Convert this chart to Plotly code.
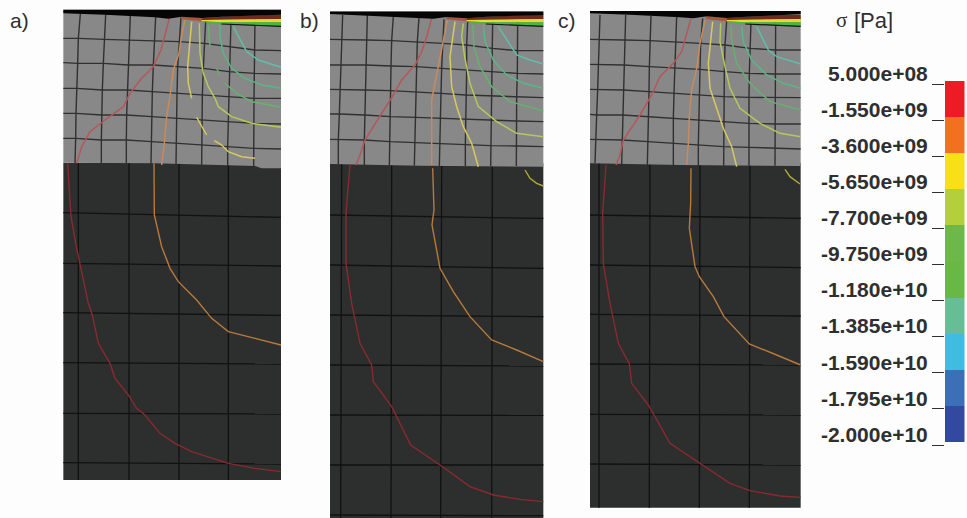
import plotly.graph_objects as go

# Colour legend
TICK_VALUES = [5.0e8, -1.55e9, -3.6e9, -5.65e9, -7.7e9, -9.75e9, -1.18e10, -1.385e10, -1.59e10, -1.795e10, -2.0e10]
TICK_LABELS = ["5.000e+08", "-1.550e+09", "-3.600e+09", "-5.650e+09", "-7.700e+09", "-9.750e+09",
               "-1.180e+10", "-1.385e+10", "-1.590e+10", "-1.795e+10", "-2.000e+10"]
LEGEND_COLORS = ["#ED1C24", "#F37021", "#F7E017", "#B3CF3A", "#6DB84A", "#68B846", "#66BD96", "#3FBCE0", "#3B6FB6", "#32499F"]

PANEL_NAMES = ["a)", "b)", "c)"]

# Upper layer mesh (rows of nodes, traced units)
A_MESH_X = [[25,76,152,226,302,378,452,528,600,678],[25,70,148,223,298,372,448,526,600,678],[25,68,145,220,295,368,445,522,598,678],
            [25,65,142,218,292,366,442,520,597,678],[25,63,140,215,290,365,441,519,597,678],[25,62,139,214,290,364,440,518,596,678],
            [25,60,139,214,288,363,440,518,596,678]]
A_MESH_Y = [[38,42,44,46,50,52,62,60,55,52],[115,115,118,120,122,125,130,140,150,152],[188,190,190,195,195,200,205,215,220,222],
            [265,265,270,270,275,280,285,290,295,295],[340,340,345,345,350,355,360,365,370,372],[415,415,420,420,425,430,435,440,445,447],
            [490,490,490,490,492,495,495,498,500,500]]
B_MESH_X = [[30,68,142,220,297,372,443,518,593,670],[30,65,140,215,292,368,440,517,593,670],[30,62,137,213,290,365,440,515,592,670],
            [30,60,135,212,288,363,438,514,590,670],[30,58,134,212,287,362,437,514,590,670],[30,55,133,210,285,360,436,513,590,670],
            [30,55,133,208,283,358,436,512,589,670]]
B_MESH_Y = [[42,45,45,48,52,58,62,62,62,60],[118,118,120,122,125,130,135,145,152,152],[195,195,195,198,200,205,210,215,220,222],
            [268,268,270,272,275,280,285,288,290,293],[342,342,345,350,352,355,358,361,363,365],[418,418,420,425,428,430,435,437,438,440],
            [492,495,495,497,497,498,498,498,498,500]]
C_MESH_X = [[30,60,137,213,290,368,440,513,587,662],[30,57,135,210,287,362,435,510,587,662],[30,55,132,208,283,360,433,508,585,662],
            [30,53,130,207,282,358,432,507,585,662],[30,50,128,205,280,356,431,507,585,662],[30,48,127,204,280,355,431,507,585,662],
            [30,45,125,202,280,355,431,507,585,662]]
C_MESH_Y = [[42,45,45,48,50,55,62,65,62,60],[118,118,120,122,125,130,135,145,150,150],[193,193,195,200,203,208,215,220,222,222],
            [268,268,270,275,280,285,290,292,293,293],[343,345,345,350,355,360,365,370,372,372],[418,418,420,425,430,435,440,442,445,447],
            [490,490,492,495,495,497,497,497,497,497]]

# Upper layer outlines
A_GREY_X = [25,678,678,620,600,300,25]
A_GREY_Y = [28,28,505,505,498,490,488]
B_GREY_X = [30,670,670,300,30]
B_GREY_Y = [33,33,500,497,492]
C_GREY_X = [30,662,662,300,30]
C_GREY_Y = [33,33,498,495,490]

# Contact zone: black wedge
A_WEDGE_X = [25,678,678,600,500,440,380,340,300,150,25]
A_WEDGE_Y = [30,30,44,46,50,54,50,56,52,44,40]
B_WEDGE_X = [30,670,670,600,500,440,380,340,300,150,30]
B_WEDGE_Y = [35,35,45,47,50,55,51,56,54,46,42]
C_WEDGE_X = [30,662,662,600,500,440,380,340,300,150,30]
C_WEDGE_Y = [33,33,42,46,50,54,49,55,52,44,40]

# Contact zone colour bands: top edges then bottom edges
BAND_X_FRACTION = [0.0, 0.25, 0.68, 1.0]
BAND_BROWN_TOP = [55, 50, 46, 44]
BAND_YELLOW_TOP = [60, 60, 58, 57]
BAND_GREEN_TOP = [64, 67, 67, 67]
BAND_GREEN_BOTTOM = [66, 71, 76, 78]
BAND_COLORS = ["#6E2A1C", "#E3DC2E", "#45B83E"]
ENTRY_X = [375, 440, 440, 380]
ENTRY_Y = [48, 54, 64, 58]
ENTRY_COLOR = "#A8583A"

# Contours in the upper layer
CONTOUR_STYLE = {"red": "#B5565A", "orange": "#C98A5C", "yellow": "#D8C95E", "yg": "#B5C95A", "green": "#66B070", "gt": "#5BB585", "teal": "#5FBFA5"}
A_CONTOURS = [
    ("red", [343,330,318,295,260,225,205,150,105,80,65], [55,105,150,200,235,280,320,360,395,440,490]),
    ("orange", [390,380,372,355,345,335,328,320], [60,105,160,210,290,350,430,495]),
    ("yellow", [410,405,402,398,400,410], [65,115,160,200,250,295]),
    ("yellow", [425,440,455], [352,380,405]),
    ("yellow", [478,500,520,560,600], [422,435,455,470,475]),
    ("yg", [433,435,445,460,480,490,530,590,678], [70,160,220,260,295,320,350,370,382]),
    ("green", [460,465], [75,140]),
    ("green", [485,495], [205,225]),
    ("green", [510,545,590,678], [250,280,305,322]),
    ("gt", [495,495,505,530,570,620,678], [75,110,160,205,235,255,265]),
    ("teal", [535,560,575,610,678], [80,125,155,180,202]),
]
B_CONTOURS = [
    ("red", [335,320,305,285,245,220,185,135,120,108], [55,110,155,195,240,285,340,420,465,495]),
    ("orange", [382,370,358,345,335,335,335], [60,120,180,240,300,400,495]),
    ("yellow", [405,398,390,395,410,430,455,475], [65,120,170,260,320,380,430,500]),
    ("yg", [430,425,435,450,475,530,590,670], [70,110,175,250,320,365,400,410]),
    ("green", [458,462,480,515,570,670], [75,140,200,260,305,332]),
    ("gt", [490,495,520,560,610,670], [75,125,180,225,250,265]),
    ("teal", [535,565,590,630,670], [80,125,165,180,192]),
]
C_CONTOURS = [
    ("red", [333,318,305,280,240,215,180,130,120,108], [55,110,155,190,230,285,345,420,465,495]),
    ("orange", [375,360,350,335,328,325,320], [60,130,205,270,350,430,495]),
    ("yellow", [398,392,385,390,405,430,455,470], [65,125,190,265,310,385,440,500]),
    ("yg", [422,420,435,450,480,540,600,662], [70,125,200,265,325,370,400,410]),
    ("green", [453,455,470,510,570,662], [75,120,190,250,305,330]),
    ("gt", [485,490,515,560,610,662], [78,125,180,225,250,265]),
    ("teal", [530,565,590,625,662], [80,150,170,180,192]),
]

# Lower body
A_LOW_OUTLINE = (25, 678, 8, 960)
B_LOW_OUTLINE = (30, 670, 10, 1074)
C_LOW_OUTLINE = (30, 662, 8, 1043)
A_LOW_V = [(70,70),(222,222),(372,372),(520,520)]
B_LOW_V = [(65,62),(215,213),(365,362),(517,515)]
C_LOW_V = [(57,57),(210,208),(360,358),(510,508)]
A_LOW_H = [(158,172),(310,318),(458,466),(608,612),(760,762),(908,912)]
B_LOW_H = [(165,175),(315,325),(465,470),(615,618),(765,766),(915,915),(1065,1067)]
C_LOW_H = [(165,175),(315,323),(463,468),(612,615),(763,765),(912,915)]
LOW_STYLE = {"red": "#8A2A30", "orange": "#B87A3C", "yellow": "#B3A83A"}
A_LOW_CONTOURS = [
    ("red", [38,48,65,80,100,112,130,165,180,220,245,270,315,360,410,520,600,678],
            [10,170,265,340,430,465,550,610,655,705,745,765,820,850,875,910,925,935]),
    ("orange", [297,298,320,345,370,425,470,520,600,678], [10,165,260,325,365,420,475,515,535,555]),
]
B_LOW_CONTOURS = [
    ("red", [90,78,78,95,120,155,160,215,272,360,450,520,600,670],
            [15,160,310,430,550,615,665,740,855,915,980,1005,1018,1025]),
    ("orange", [338,342,336,360,400,450,515,590,670], [25,150,195,325,395,470,540,570,605]),
    ("yellow", [615,630,650,670], [30,55,70,78]),
]
C_LOW_CONTOURS = [
    ("red", [78,68,70,90,115,148,155,205,270,360,450,510,600,662],
            [15,160,310,430,550,612,670,735,850,910,970,992,1008,1012]),
    ("orange", [333,332,328,345,358,400,432,508,590,662], [25,130,205,320,350,410,470,552,585,615]),
    ("yellow", [615,630,660], [28,50,72]),
]

W, H = 967, 518
GREY, DARK = "#888888", "#2D2E2E"
INK = "#2F2F2F"
fig = go.Figure()
layout = {}
axis_n = [0]


def new_axes(left, top, width, height):
    axis_n[0] += 1
    n = axis_n[0]
    layout[f"xaxis{n}"] = dict(domain=[left / W, (left + width) / W], range=[0, width * 3], visible=False, anchor=f"y{n}", fixedrange=True, automargin=False)
    layout[f"yaxis{n}"] = dict(domain=[1 - (top + height) / H, 1 - top / H], range=[height * 3, 0], visible=False, anchor=f"x{n}", fixedrange=True, automargin=False)
    return f"x{n}", f"y{n}"


def poly(ax, xs, ys, color):
    fig.add_trace(go.Scatter(x=xs, y=ys, xaxis=ax[0], yaxis=ax[1], mode="lines", fill="toself", fillcolor=color,
                             line=dict(width=0, color=color), hoverinfo="skip", showlegend=False))


def line(ax, xs, ys, color, width=1.0):
    fig.add_trace(go.Scatter(x=xs, y=ys, xaxis=ax[0], yaxis=ax[1], mode="lines", line=dict(color=color, width=width),
                             hoverinfo="skip", showlegend=False))


def lower(left, top, w, h, outline, vs, hs, contours):
    ax = new_axes(left, top, w, h)
    x0, x1, y0, y1 = outline
    poly(ax, [x0, x1, x1, x0], [y0, y0, y1, y1], DARK)
    for a, b in vs:
        line(ax, [a, b], [y0, y1], "#111111", 1.3)
    for a, b in hs:
        line(ax, [x0, x1], [a, b], "#111111", 1.3)
    for name, xs, ys in contours:
        line(ax, xs, ys, LOW_STYLE[name], 1.4)


def upper(left, top, w, h, gx, gy, mx, my, wx, wy, contours):
    ax = new_axes(left, top, w, h)
    poly(ax, gx, gy, GREY)
    rows, cols = len(mx), len(mx[0])
    for r in range(1, rows - 1):
        line(ax, mx[r], my[r], "#303030", 1.4)
    for c in range(1, cols - 1):
        line(ax, [mx[r][c] for r in range(rows)], [my[r][c] for r in range(rows)], "#303030", 1.4)
    for name, xs, ys in contours:
        line(ax, xs, ys, CONTOUR_STYLE[name], 1.5)
    x_start, x_end = 440, gx[1]
    bx = [x_start + (x_end - x_start) * f for f in BAND_X_FRACTION]
    edges = [BAND_BROWN_TOP, BAND_YELLOW_TOP, BAND_GREEN_TOP, BAND_GREEN_BOTTOM]
    poly(ax, ENTRY_X, ENTRY_Y, ENTRY_COLOR)
    for i, col in enumerate(BAND_COLORS):
        poly(ax, bx + bx[::-1], edges[i] + edges[i + 1][::-1], col)
    line(ax, bx[1:], [v + 1 for v in BAND_GREEN_BOTTOM[1:]], "#111111", 1.2)
    poly(ax, wx, wy, "#050505")


lower(55, 160, 240, 330, A_LOW_OUTLINE, A_LOW_V, A_LOW_H, A_LOW_CONTOURS)
upper(55, 0, 240, 175, A_GREY_X, A_GREY_Y, A_MESH_X, A_MESH_Y, A_WEDGE_X, A_WEDGE_Y, A_CONTOURS)
lower(320, 160, 240, 358, B_LOW_OUTLINE, B_LOW_V, B_LOW_H, B_LOW_CONTOURS)
upper(320, 0, 240, 175, B_GREY_X, B_GREY_Y, B_MESH_X, B_MESH_Y, B_WEDGE_X, B_WEDGE_Y, B_CONTOURS)
lower(580, 160, 230, 350, C_LOW_OUTLINE, C_LOW_V, C_LOW_H, C_LOW_CONTOURS)
upper(580, 0, 230, 175, C_GREY_X, C_GREY_Y, C_MESH_X, C_MESH_Y, C_WEDGE_X, C_WEDGE_Y, C_CONTOURS)

# Colour legend: bars on a stress axis whose ticks sit slightly below the colour steps
n = axis_n[0] + 1
step_shift = 1.7e8
for i, col in enumerate(LEGEND_COLORS):
    fig.add_trace(go.Bar(x=[0], y=[TICK_VALUES[i] - TICK_VALUES[i + 1]], base=[TICK_VALUES[i + 1] + step_shift], width=[1],
                         marker=dict(color=col, line=dict(width=0)), xaxis=f"x{n}", yaxis=f"y{n}", hoverinfo="skip", showlegend=False))
layout[f"xaxis{n}"] = dict(domain=[945 / W, 964.5 / W], range=[-0.5, 0.5], visible=False, anchor=f"y{n}", fixedrange=True, automargin=False)
layout[f"yaxis{n}"] = dict(domain=[1 - 446 / H, 1 - 80 / H], range=[-2.0057e10, 7.27e8], anchor=f"x{n}", fixedrange=True, automargin=False,
                           tickmode="array", tickvals=TICK_VALUES, ticktext=[""] * len(TICK_VALUES), ticks="outside", ticklen=12,
                           tickwidth=1.4, tickcolor=INK, showgrid=False, zeroline=False, showline=False)

# Tick labels sit above their tick marks: same scale, labels carried by a companion axis
m = n + 1
label_shift = 6.0e8
fig.add_trace(go.Scatter(x=[0], y=[TICK_VALUES[0]], mode="markers", marker=dict(opacity=0), xaxis=f"x{m}", yaxis=f"y{m}",
                         hoverinfo="skip", showlegend=False))
layout[f"xaxis{m}"] = dict(domain=[945 / W, 964.5 / W], range=[-0.5, 0.5], visible=False, anchor=f"y{m}", fixedrange=True, automargin=False)
layout[f"yaxis{m}"] = dict(domain=[1 - 446 / H, 1 - 60 / H], range=[-2.0057e10, 1.863e9], anchor=f"x{m}", fixedrange=True, automargin=False,
                           tickmode="array", tickvals=[v + label_shift for v in TICK_VALUES], ticktext=TICK_LABELS,
                           ticks="outside", ticklen=12, tickwidth=0, tickcolor="rgba(0,0,0,0)", showgrid=False, zeroline=False, showline=False,
                           tickfont=dict(family="Liberation Sans", size=21, color=INK, weight="bold"))

ann = [dict(text=t, xref="paper", yref="paper", x=x / W, y=1 - 20 / H, xanchor="left", yanchor="middle", showarrow=False,
            font=dict(family="Liberation Sans", size=21, color=INK)) for t, x in zip(PANEL_NAMES, [8, 298, 556])]
ann.append(dict(text="σ", xref="paper", yref="paper", x=834 / W, y=1 - 20 / H, xanchor="left", yanchor="middle", showarrow=False,
                font=dict(family="Liberation Serif", size=21, color=INK)))
ann.append(dict(text="[Pa]", xref="paper", yref="paper", x=852 / W, y=1 - 20 / H, xanchor="left", yanchor="middle", showarrow=False,
                font=dict(family="Liberation Sans", size=22, color=INK)))

fig.update_layout(width=W, height=H, margin=dict(l=0, r=0, t=0, b=0), paper_bgcolor="#FDFDFD", plot_bgcolor="rgba(0,0,0,0)",
                  barmode="overlay", bargap=0, showlegend=False, annotations=ann, **layout)
fig.write_html("out.html", post_script="document.body.style.margin='0';", config={"displayModeBar": False})
